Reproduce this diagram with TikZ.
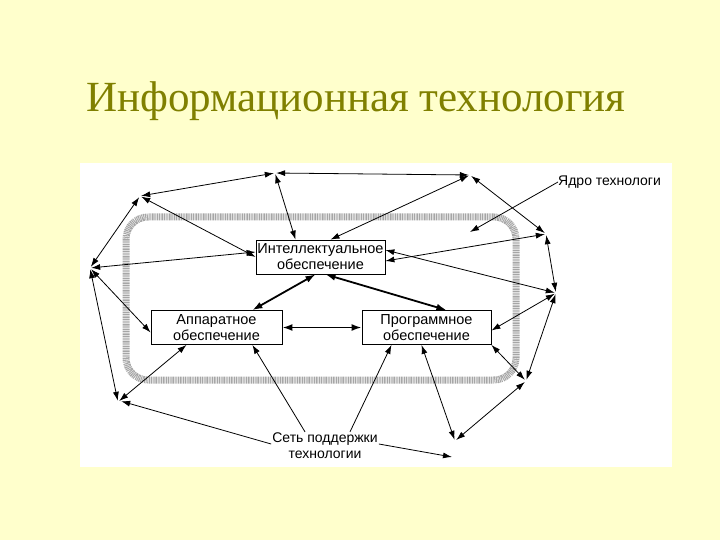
\documentclass[tikz,border=0pt]{standalone}
\usepackage{fontspec}
\usetikzlibrary{arrows.meta}
\setmainfont{Liberation Serif}
\newfontfamily\dsans{Liberation Sans}
\begin{document}
\begin{tikzpicture}[x=1pt,y=-1pt,
  arr/.style={{Latex[length=9pt,width=6pt]}-{Latex[length=9pt,width=6pt]},line width=0.8pt},
  one/.style={-{Latex[length=9pt,width=6pt]},line width=0.8pt},
  thk/.style={{Latex[length=10pt,width=7pt]}-{Latex[length=10pt,width=7pt]},line width=1.8pt},
  bx/.style={draw,line width=0.8pt,fill=white,font=\dsans\fontsize{14.5}{16}\selectfont,align=center,inner sep=0pt,minimum height=34pt},
  pt/.style={inner sep=0pt,minimum size=2pt}]
\fill[fill={rgb,255:red,255;green,255;blue,204}] (0,0) rectangle (720,540);
\node[text={rgb,255:red,128;green,128;blue,0},font=\fontsize{43}{50}\selectfont,anchor=base west,inner sep=0pt] (title) at (86,112) {Информационная технология};
\fill[white] (80,163) rectangle (672,467);
\draw[gray!70,line width=7pt,dash pattern=on 1pt off 0.7pt,rounded corners=22pt] (126,217) rectangle (516,380);
\node[bx,minimum width=129pt] (I) at (320.5,257) {Интеллектуальное\\обеспечение};
\node[bx,minimum width=131pt] (A) at (216.5,327.5) {Аппаратное\\обеспечение};
\node[bx,minimum width=129pt] (P) at (426.5,327.5) {Программное\\обеспечение};
\node[pt] (p1) at (140,196) {};
\node[pt] (p2) at (275,173) {};
\node[pt] (p3) at (470,175) {};
\node[pt] (p4) at (546,234) {};
\node[pt] (p5) at (556,293) {};
\node[pt] (p6) at (526,381) {};
\node[pt] (p7) at (455,441) {};
\node[pt] (p8) at (118,402) {};
\node[pt] (p9) at (90,268) {};
\node[font=\dsans\fontsize{14}{16}\selectfont,anchor=west,inner sep=0pt] (core) at (558,182) {Ядро технологи};
\coordinate (coreT) at (470,232);
\node[font=\dsans\fontsize{14}{16}\selectfont,align=center,inner sep=1pt] (net) at (325,446) {Сеть поддержки\\технологии};
\draw[arr] (p1) -- (p2); \draw[arr] (p2) -- (p3); \draw[arr] (p3) -- (p4);
\draw[arr] (p4) -- (p5); \draw[arr] (p5) -- (p6); \draw[arr] (p6) -- (p7);
\draw[arr] (p1) -- (p9); \draw[arr] (p9) -- (p8);
\draw[arr] (p2) -- ([xshift=-25pt]I.north);
\draw[arr] (p3) -- ([xshift=10pt]I.north);
\draw[arr] (p1) -- (I.west);
\draw[arr] (p9) -- ([yshift=5pt]I.west);
\draw[arr] (p4) -- ([yshift=-4pt]I.east);
\draw[arr] (p5) -- ([yshift=7pt]I.east);
\draw[arr] (p5) -- ([yshift=-3pt]P.east);
\draw[arr] (p6) -- (P.south east);
\draw[arr] (p7) -- ([xshift=-5pt]P.south);
\draw[arr] (p9) -- ([yshift=-5pt]A.west);
\draw[arr] (p8) -- ([xshift=-30pt]A.south);
\draw[thk] ([xshift=-5pt]I.south) -- ([xshift=-30pt]A.north east);
\draw[thk] ([xshift=5pt]I.south) -- ([xshift=-45pt]P.north east);
\draw[thk] (A.east) -- (P.west);
\draw[one] ([xshift=-20pt]net.north) -- ([xshift=-30pt]A.south east);
\draw[one] ([xshift=25pt]net.north) -- ([xshift=-35pt]P.south);
\draw[one] ([yshift=2pt]net.west) -- ([xshift=2pt,yshift=2pt]p8.south east);
\draw[one] ([yshift=2pt]net.east) -- (452,457);
\draw[one] (core.west) -- (coreT);
\end{tikzpicture}
\end{document}
